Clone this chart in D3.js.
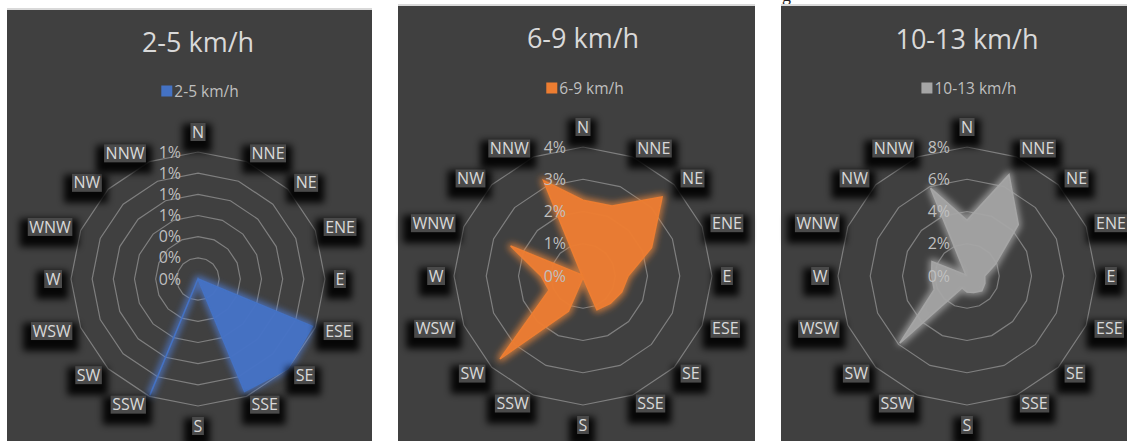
<!DOCTYPE html>
<html>
<head>
<meta charset="utf-8">
<script src="https://cdn.jsdelivr.net/npm/d3@7"></script>
<style>
  html, body { margin: 0; padding: 0; background: #ffffff; }
  svg { display: block; font-family: "Open Sans", "DejaVu Sans", sans-serif; }
</style>
</head>
<body>
<svg id="chart" width="1127" height="441"></svg>
<script>
// wind directions, clockwise from north
const directions = ["N", "NNE", "NE", "ENE", "E", "ESE", "SE", "SSE",
                    "S", "SSW", "SW", "WSW", "W", "WNW", "NW", "NNW"];

// share of hours (%) per direction
const speed2to5 = [0, 0, 0, 0, 0, 1.17, 1.2, 1.15, 0, 1.19, 0, 0, 0, 0, 0, 0];
const speed6to9 = [2.35, 2.35, 3.47, 2.3, 1.4, 1.3, 1.2, 1.13, 0.05, 1.18, 3.64, 1.14, 1.3, 2.43, 0.05, 3.2];
const speed10to13 = [3.46, 6.8, 4.5, 1.9, 1.1, 1.2, 1.3, 1.1, 1.0, 0.8, 5.9, 2.2, 2.2, 2.35, 0.1, 5.9];

// value axis ticks per chart
const ticks2to5 = [0, 0.2, 0.4, 0.6, 0.8, 1.0, 1.2];
const ticks6to9 = [0, 1, 2, 3, 4];
const ticks10to13 = [0, 2, 4, 6, 8];

const panels = [
    { title: "2-5 km/h", values: speed2to5, ticks: ticks2to5, color: "#4472c4", glow: "#4f7fdc",
      box: [7, 10, 365, 431], cx: 198, cy: 279, r: 127, titleY: 52, legendY: 91 },
    { title: "6-9 km/h", values: speed6to9, ticks: ticks6to9, color: "#ed7d31", glow: "#f28a3c",
      box: [398, 6, 357, 435], cx: 583, cy: 276, r: 129, titleY: 48, legendY: 88 },
    { title: "10-13 km/h", values: speed10to13, ticks: ticks10to13, color: "#a5a5a5", glow: "#b5b5b5",
      box: [781, 6, 346, 435], cx: 967, cy: 276, r: 129, titleY: 49, legendY: 88 }
];

const svg = d3.select("#chart");
const defs = svg.append("defs");
const fmt = d3.format(".0%");

// soft shadow behind the direction labels
defs.append("filter").attr("id", "shadow")
    .attr("x", "-50%").attr("y", "-50%").attr("width", "200%").attr("height", "200%")
    .append("feGaussianBlur").attr("stdDeviation", 3.5);

// glow round each series
panels.forEach((p, i) => {
    const f = defs.append("filter").attr("id", "glow" + i)
        .attr("x", "-20%").attr("y", "-20%").attr("width", "140%").attr("height", "140%");
    f.append("feMorphology").attr("in", "SourceAlpha").attr("operator", "dilate").attr("radius", 2).attr("result", "d");
    f.append("feGaussianBlur").attr("in", "d").attr("stdDeviation", 3).attr("result", "b");
    f.append("feFlood").attr("flood-color", p.glow).attr("flood-opacity", 0.7);
    f.append("feComposite").attr("in2", "b").attr("operator", "in").attr("result", "g");
    const m = f.append("feMerge");
    m.append("feMergeNode").attr("in", "g");
    m.append("feMergeNode").attr("in", "SourceGraphic");
});

// stray descender from the page text above the charts
svg.append("text").attr("x", 782).attr("y", 1)
    .attr("font-family", "Liberation Serif").attr("font-size", 18).attr("fill", "#222")
    .text("g");

const angle = d3.scaleLinear().domain([0, directions.length]).range([0, 2 * Math.PI]);

panels.forEach((p, pi) => {
    const [bx, by, bw, bh] = p.box;
    svg.append("rect").attr("x", bx).attr("y", by - 2).attr("width", bw).attr("height", 2).attr("fill", "#d9d9d9");
    svg.append("rect").attr("x", bx).attr("y", by).attr("width", bw).attr("height", bh).attr("fill", "#404040");

    const g = svg.append("g").attr("transform", `translate(${p.cx},${p.cy})`);
    const rScale = d3.scaleLinear().domain([0, d3.max(p.ticks)]).range([0, p.r]);

    // title + legend
    svg.append("text").attr("x", p.cx).attr("y", p.titleY)
        .attr("text-anchor", "middle").attr("font-size", 27).attr("fill", "#d9d9d9")
        .text(p.title);
    const leg = svg.append("g");
    const legText = leg.append("text").attr("x", 13).attr("y", p.legendY + 5.5)
        .attr("font-size", 15.5).attr("fill", "#bfbfbf").text(p.title);
    leg.append("rect").attr("x", 0).attr("y", p.legendY - 5.5).attr("width", 11).attr("height", 11).attr("fill", p.color);
    const lw = 13 + legText.node().getComputedTextLength();
    leg.attr("transform", `translate(${p.cx - lw / 2 + 2},0)`);

    // polygonal gridlines
    const ring = d3.lineRadial().curve(d3.curveLinearClosed)
        .angle((d, i) => angle(i)).radius(d => rScale(d));
    g.selectAll("path.ring").data(p.ticks.filter(t => t > 0)).join("path")
        .attr("class", "ring")
        .attr("d", t => ring(directions.map(() => t)))
        .attr("fill", "none").attr("stroke", "#7f7f7f").attr("stroke-width", 1.2);

    // series
    const area = d3.lineRadial().curve(d3.curveLinearClosed)
        .angle((d, i) => angle(i)).radius(d => rScale(d));
    g.append("path").datum(p.values)
        .attr("d", area)
        .attr("fill", p.color).attr("fill-opacity", pi === 2 ? 0.85 : 0.92)
        .attr("stroke", p.color).attr("stroke-width", 1.5).attr("stroke-linejoin", "miter")
        .attr("filter", `url(#glow${pi})`);

    // value axis labels
    g.selectAll("text.tick").data(p.ticks).join("text")
        .attr("class", "tick")
        .attr("x", -17).attr("y", d => -rScale(d)).attr("dy", "0.35em")
        .attr("text-anchor", "end").attr("font-size", 16).attr("fill", "#bfbfbf")
        .text(d => fmt(d / 100));

    // direction labels with boxes
    const lab = g.selectAll("g.dir").data(directions).join("g").attr("class", "dir");
    lab.each(function (d, i) {
        const a = angle(i);
        const rr = p.r + 9;
        const px = rr * Math.sin(a), py = -rr * Math.cos(a);
        const el = d3.select(this);
        const t = el.append("text").attr("font-size", 16).attr("fill", "#d9d9d9").text(d);
        const w = t.node().getComputedTextLength() + 3, h = 18;
        let x0, y0;
        if (i === 0) { x0 = px - w / 2; y0 = py - h - 2; }
        else if (i === 8) { x0 = px - w / 2; y0 = py + 2; }
        else if (i < 8) { x0 = px; y0 = py - h / 2; }
        else { x0 = px - w; y0 = py - h / 2; }
        el.insert("rect", "text").attr("x", x0 - 8).attr("y", y0 + 1).attr("width", w + 14).attr("height", h + 10)
            .attr("fill", "#000").attr("opacity", 0.9).attr("filter", "url(#shadow)");
        el.insert("rect", "text").attr("x", x0).attr("y", y0).attr("width", w).attr("height", h).attr("fill", "#4a4a4a");
        t.attr("x", x0 + w / 2).attr("y", y0 + h / 2).attr("dy", "0.35em").attr("text-anchor", "middle");
    });
});
</script>
</body>
</html>
